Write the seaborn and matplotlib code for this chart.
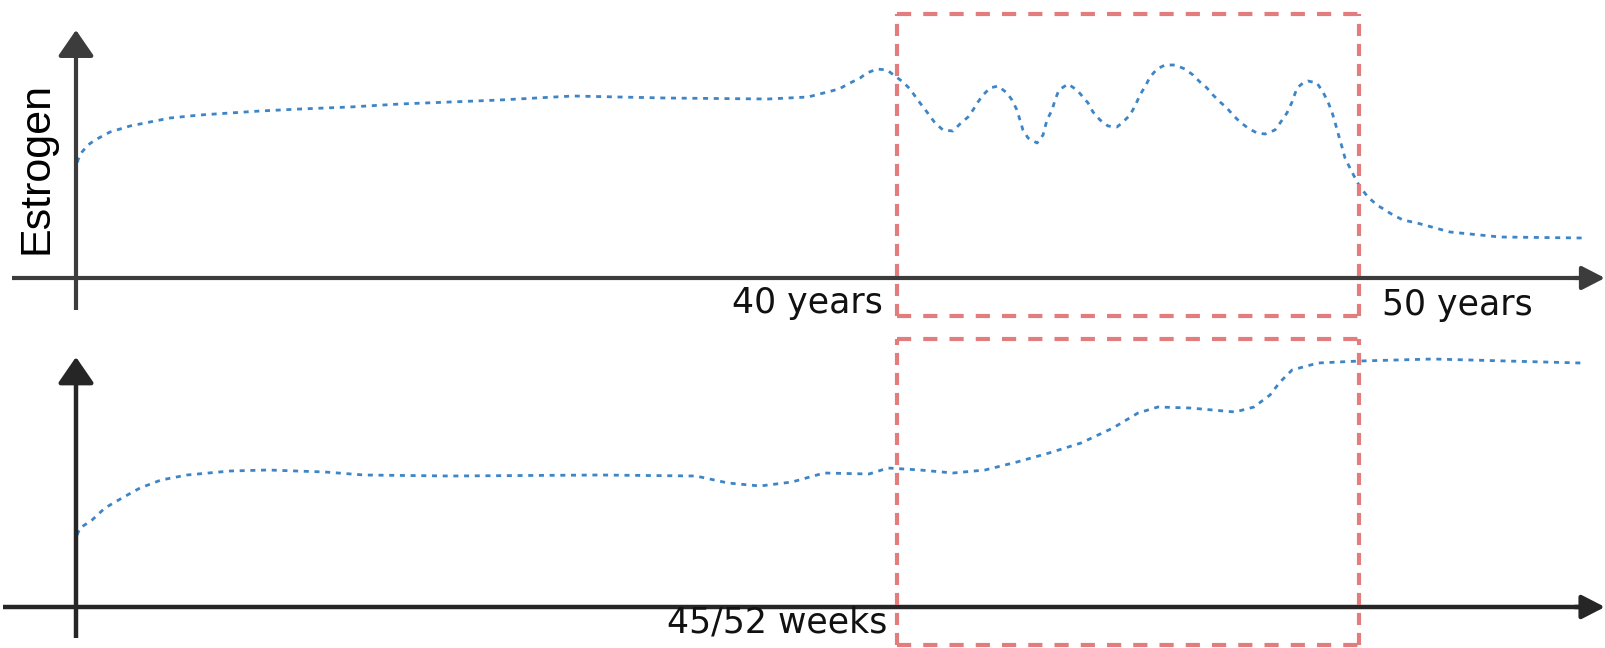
import numpy as np
import pandas as pd
import matplotlib as mpl
import matplotlib.pyplot as plt
import seaborn as sns

mpl.use("Agg")

# estrogen curve, upper panel (age scale): time units / level units
t_age = [0, 0.13, 0.4, 0.8, 1.27, 2.27, 3.6, 4.93, 6.27, 8.27, 10.27, 12.27, 14.93,
         18.27, 21.6, 24.93, 28.27, 33.13, 39.27, 46.13, 48.8, 50.87, 51.47,
         52.27, 52.73, 53.4, 54.07, 54.6, 55.13, 55.6, 55.93, 56.27, 56.73, 57.27,
         57.8, 58.47, 58.93, 59.47, 59.8, 60.13, 60.47, 60.93, 61.47, 62.07, 62.4,
         62.73, 62.93, 63.13, 63.47, 64.07, 64.47, 64.73, 65.07, 65.27, 65.53,
         66.13, 66.73, 67.13, 67.47, 67.8, 68.27, 68.8, 69.4, 69.8, 70.27, 70.6,
         70.93, 71.33, 71.6, 72.07, 72.6, 73.27, 73.93, 74.47, 74.93, 75.4, 75.8,
         76.27, 76.73, 77.13, 77.6, 78.13, 78.73, 79.27, 79.93, 80.27, 80.73,
         81.07, 81.4, 81.8, 82.13, 82.73, 83.13, 83.47, 83.73, 83.93, 84.13, 84.4,
         84.6, 84.93, 85.27, 85.6, 86.13, 86.73, 87.27, 87.8, 88.47, 89.4, 91.6,
         94.93, 100.47]
lvl_age = [42, 47.2, 50.4, 53.2, 55.2, 58.4, 60.8, 62.4, 64, 65.2, 66, 66.8, 67.6,
           68.4, 69.6, 70.4, 71.2, 72.8, 72, 71.6, 72.4, 75.6, 77.6,
           80, 82, 83.6, 83.2, 80.8, 78.4, 75.6, 72.8, 70, 66.4, 62,
           59.2, 58.8, 61.6, 64.4, 67.2, 70.4, 73.2, 76, 76.8, 74, 71.2,
           67.2, 63.2, 59.2, 56, 54, 57.2, 63.2, 67.2, 71.2, 75.2,
           77.6, 75.2, 72.4, 70, 66.4, 63.2, 60.8, 60.4, 62.4, 65.2, 68.8,
           73.2, 77.2, 80.4, 83.6, 85.2, 85.2, 83.6, 81.2, 78.4, 76, 73.2,
           70.4, 68, 65.2, 62.4, 60, 58, 57.6, 59.2, 62, 66,
           70.4, 76, 78, 78.8, 78, 74.4, 70.4, 66.4, 62.4, 58, 52.4,
           48, 44, 40, 36.4, 32.4, 29.2, 27.2, 25.2, 23.2, 22, 18.4,
           16.4, 16]

# lower panel (weeks scale)
t_wk = [0.07, 0.27, 1.07, 1.93, 3.07, 4.27, 5.67, 7.4, 10.27, 12.8, 16.6, 19.2,
        24.93, 34.93, 41.33, 43.47, 45.6, 47.73, 49.87, 52.87, 54.13, 56.27, 58.47,
        60.6, 62.73, 64.87, 67.0, 69.13, 70.8, 72.13, 74.27, 77.27, 78.53, 79.6,
        80.27, 81.07, 82.8, 85.6, 90.47, 100.33]
lvl_wk = [28.8, 31.6, 34.8, 39.6, 43.6, 47.6, 50.8, 52.8, 54.4, 54.8, 54, 52.8,
          52.4, 52.8, 52.4, 49.6, 48.4, 50, 53.6, 53.2, 55.6, 54.8, 53.6,
          54.8, 58, 61.6, 65.6, 71.6, 77.6, 80, 79.6, 78, 80, 84.8,
          90, 94.8, 97.6, 98.4, 99.2, 97.6]

# highlighted window (start, end) on the time axis
window = [54.73, 85.53]

sns.set_theme(style="white")
plt.rcParams["font.family"] = ["DejaVu Sans"]

fig = plt.figure(figsize=(16.05, 6.48), dpi=100)
ax1 = fig.add_axes([0, 0.5, 1, 0.5])
ax2 = fig.add_axes([0, 0.0, 1, 0.5])

xlim = (-76 / 15, (1605 - 76) / 15)
ax1.set_xlim(*xlim)
ax1.set_ylim(-18.4, 111.2)
ax2.set_xlim(*xlim)
ax2.set_ylim(-16.4, 113.2)

blue = "#3d85c6"
red = "#e37c7c"

df1 = pd.DataFrame({"t": t_age, "level": lvl_age})
df2 = pd.DataFrame({"t": t_wk, "level": lvl_wk})
for ax, df in [(ax1, df1), (ax2, df2)]:
    sns.lineplot(data=df, x="t", y="level", ax=ax, sort=False, estimator=None,
                 color=blue, lw=2)
    ax.lines[-1].set_linestyle((0, (1.8, 2.05)))
    ax.axis("off")


def axes_arrows(ax, color, x0, y0, ytip, xtip, lw):
    # vertical axis
    ax.plot([0, 0], [y0, ytip - 5], color=color, lw=lw, solid_capstyle="butt")
    ax.annotate("", xy=(0, ytip), xytext=(0, ytip - 9),
                arrowprops=dict(arrowstyle="-|>,head_length=0.8,head_width=0.55",
                                color=color, lw=lw, mutation_scale=20,
                                shrinkA=0, shrinkB=0))
    # horizontal axis
    ax.plot([x0, xtip - 1], [0, 0], color=color, lw=lw, solid_capstyle="butt")
    ax.annotate("", xy=(xtip, 0), xytext=(xtip - 2, 0), annotation_clip=False,
                arrowprops=dict(arrowstyle="-|>,head_length=0.7,head_width=0.36",
                                color=color, lw=lw, mutation_scale=20,
                                shrinkA=0, shrinkB=0))


axes_arrows(ax1, "#3c3c3c", -4.27, -12.8, 99.2, 101.93, 3)
axes_arrows(ax2, "#262626", -4.87, -12.4, 100.0, 101.93, 3.2)


def dashed_box(ax, x0, x1, ybot, ytop):
    hs = (0, (3.4, 2.9))
    vs = (0, (2.9, 1.9))
    kw = dict(color=red, lw=3, clip_on=False)
    ax.plot([x0, x1], [ytop, ytop], ls=hs, **kw)
    ax.plot([x0, x1], [ybot, ybot], ls=hs, **kw)
    ax.plot([x0, x0], [ybot, ytop], ls=vs, **kw)
    ax.plot([x1, x1], [ybot, ytop], ls=vs, **kw)


dashed_box(ax1, window[0], window[1], -15.2, 105.6)
dashed_box(ax2, window[0], window[1], -15.2, 107.2)

ax1.text(-2.6, 44, "Estrogen", rotation=90, ha="center", va="center",
         fontsize=31, family=["Liberation Sans", "DejaVu Sans"], color="black")
ax1.text(53.8, -14, "40 years", ha="right", va="baseline", fontsize=25, color="#111111")
ax1.text(87.07, -14.8, "50 years", ha="left", va="baseline", fontsize=25, color="#111111")
ax2.text(54.07, -10.4, "45/52 weeks", ha="right", va="baseline", fontsize=25, color="#111111")

fig.savefig("out.png", dpi=100)
